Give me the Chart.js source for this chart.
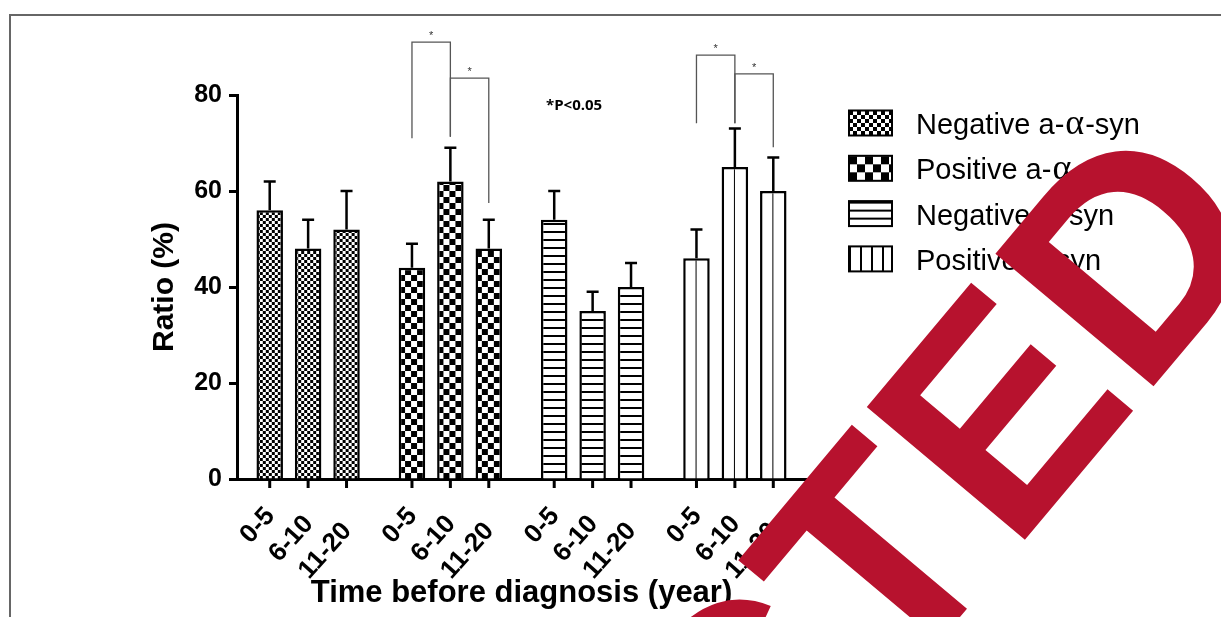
<!DOCTYPE html>
<html>
<head>
<meta charset="utf-8">
<script src="https://cdn.jsdelivr.net/npm/chart.js@4.4.1/dist/chart.umd.min.js"></script>
<style>
    html, body { margin: 0; padding: 0; background: #fff; }
    #wrap { position: relative; width: 1221px; height: 617px; overflow: hidden; }
    #frame { position: absolute; left: 9px; top: 14px; width: 1300px; height: 700px;
             border-top: 2px solid #666; border-left: 2px solid #666; }
    #c { position: absolute; left: 0; top: 0; }
</style>
</head>
<body>
<div id="wrap"><div id="frame"></div><canvas id="c" width="1221" height="617"></canvas></div>
<script>
(function () {
    'use strict';

    // ── Data ──────────────────────────────────────────────────────────────────
    var GROUPS  = ['Negative a-α-syn', 'Positive a-α-syn', 'Negative α-syn', 'Positive α-syn'];
    var PERIODS = ['0-5', '6-10', '11-20'];

    var NEG_ANTI     = [56, 48, 52];
    var NEG_ANTI_SD  = [6, 6, 8];
    var POS_ANTI     = [44, 62, 48];
    var POS_ANTI_SD  = [5, 7, 6];
    var NEG_ASYN     = [54, 35, 40];
    var NEG_ASYN_SD  = [6, 4, 5];
    var POS_ASYN     = [46, 65, 60];
    var POS_ASYN_SD  = [6, 8, 7];

    var Y_TICKS = [0, 20, 40, 60, 80];

    // significance brackets (group, bar a, bar b, top value, leg ends)
    var SIG_GROUP = [1, 1, 3, 3];
    var SIG_FROM  = [0, 1, 0, 1];
    var SIG_TO    = [1, 2, 1, 2];
    var SIG_TOP   = [91, 83.5, 88.3, 84.4];
    var SIG_END_A = [71, 71.3, 74.1, 74.1];
    var SIG_END_B = [71.3, 57.5, 74.1, 69.1];

    var SERIES    = [NEG_ANTI, POS_ANTI, NEG_ASYN, POS_ASYN];
    var SERIES_SD = [NEG_ANTI_SD, POS_ANTI_SD, NEG_ASYN_SD, POS_ASYN_SD];
    var KINDS     = ['fine', 'coarse', 'hlines', 'vlines'];

    var FONT = 'Liberation Sans';
    var STAMP = 'rgb(183, 18, 46)';

    // ── Patterns ──────────────────────────────────────────────────────────────
    function makeTile(kind, legend) {
        var t = document.createElement('canvas');
        var c, s;
        if (kind === 'fine' || kind === 'coarse') {
            s = kind === 'fine' ? (legend ? 4 : 3) : (legend ? 8 : 6);
            t.width = t.height = 2 * s;
            c = t.getContext('2d');
            c.fillStyle = '#fff'; c.fillRect(0, 0, 2 * s, 2 * s);
            c.fillStyle = '#000'; c.fillRect(0, 0, s, s); c.fillRect(s, s, s, s);
        } else if (kind === 'hlines') {
            t.width = 4; t.height = 8;
            c = t.getContext('2d');
            c.fillStyle = '#fff'; c.fillRect(0, 0, 4, 8);
            c.fillStyle = '#000'; c.fillRect(0, 0, 4, 2);
        } else {
            t.width = legend ? 11 : 13; t.height = 4;
            c = t.getContext('2d');
            c.fillStyle = '#fff'; c.fillRect(0, 0, t.width, 4);
            c.fillStyle = '#000'; c.fillRect(legend ? 0 : 12, 0, 2, 4);
        }
        return t;
    }

    var canvas = document.getElementById('c');
    var ctx = canvas.getContext('2d');

    function makePattern(kind, legend) {
        return ctx.createPattern(makeTile(kind, legend), 'repeat');
    }

    var datasets = PERIODS.map(function (p, pi) {
        return {
            label: p,
            data: SERIES.map(function (s) { return s[pi]; }),
            errors: SERIES_SD.map(function (s) { return s[pi]; }),
            backgroundColor: KINDS.map(function (k) { return makePattern(k, false); }),
            borderColor: '#000',
            borderWidth: 2.5,
            categoryPercentage: 0.81,
            barPercentage: 0.69,
        };
    });

    var legendPatterns = KINDS.map(function (k) { return makePattern(k, true); });

    function drawLegendText(c, text, x, y) {
        var parts = text.split('α');
        parts.forEach(function (p, i) {
            c.font = '29px "' + FONT + '"';
            c.fillText(p, x, y);
            x += c.measureText(p).width;
            if (i < parts.length - 1) {
                c.font = '36px "Liberation Serif"';
                c.fillText('α', x + 1, y);
                x += c.measureText('α').width + 2;
            }
        });
    }

    var decor = {
        id: 'decor',
        beforeDatasetsDraw: function (chart) {
            var bottom = chart.chartArea.bottom;
            chart.data.datasets.forEach(function (ds, di) {
                chart.getDatasetMeta(di).data.forEach(function (el, i) {
                    var left = el.x - el.width / 2;
                    ds.backgroundColor[i].setTransform(new DOMMatrix([1, 0, 0, 1, left + 0.3, bottom]));
                });
            });
        },
        afterDatasetsDraw: function (chart) {
            var c = chart.ctx, y = chart.scales.y;
            c.save();
            c.strokeStyle = '#000';
            c.lineWidth = 2.5;
            chart.data.datasets.forEach(function (ds, di) {
                chart.getDatasetMeta(di).data.forEach(function (el, i) {
                    var top = y.getPixelForValue(ds.data[i] + ds.errors[i]);
                    c.beginPath();
                    c.moveTo(el.x, el.y); c.lineTo(el.x, top);
                    c.moveTo(el.x - 6, top); c.lineTo(el.x + 6, top);
                    c.stroke();
                });
            });
            c.restore();
        },
        afterDraw: function (chart) {
            var c = chart.ctx, y = chart.scales.y, area = chart.chartArea;
            var metas = PERIODS.map(function (p, pi) { return chart.getDatasetMeta(pi); });
            c.save();

            // per-bar tick marks and rotated labels
            c.strokeStyle = '#000';
            c.lineWidth = 3;
            c.fillStyle = '#000';
            c.font = 'bold 26px "' + FONT + '"';
            metas.forEach(function (meta, pi) {
                meta.data.forEach(function (el) {
                    c.beginPath();
                    c.moveTo(el.x, area.bottom); c.lineTo(el.x, area.bottom + 9);
                    c.stroke();
                    var w = c.measureText(PERIODS[pi]).width;
                    c.save();
                    c.translate(el.x - 9, area.bottom + 24 + 0.55 * (w - 37.6));
                    c.rotate(-48 * Math.PI / 180);
                    c.textAlign = 'right';
                    c.textBaseline = 'top';
                    c.fillText(PERIODS[pi], 0, 0);
                    c.restore();
                });
            });

            // significance brackets
            c.strokeStyle = '#555';
            c.lineWidth = 1.3;
            c.fillStyle = '#333';
            c.font = '11px "' + FONT + '"';
            c.textAlign = 'center';
            SIG_GROUP.forEach(function (g, k) {
                var xa = metas[SIG_FROM[k]].data[g].x;
                var xb = metas[SIG_TO[k]].data[g].x;
                var yt = y.getPixelForValue(SIG_TOP[k]);
                c.beginPath();
                c.moveTo(xa, y.getPixelForValue(SIG_END_A[k]));
                c.lineTo(xa, yt); c.lineTo(xb, yt);
                c.lineTo(xb, y.getPixelForValue(SIG_END_B[k]));
                c.stroke();
                c.fillText('*', (xa + xb) / 2, yt - 3);
            });

            c.fillStyle = '#000';
            c.font = 'bold 15px "Open Sans"';
            c.textAlign = 'left';
            c.fillText('*P<0.05', 546, 110);

            // legend
            c.textAlign = 'left';
            c.textBaseline = 'alphabetic';
            GROUPS.forEach(function (g, i) {
                var cy = 123 + i * 45.3;
                var bx = 849, by = cy - 12.5;
                legendPatterns[i].setTransform(new DOMMatrix([1, 0, 0, 1, bx, by + 0.5]));
                c.fillStyle = legendPatterns[i];
                c.fillRect(bx, by, 43, 25);
                c.strokeStyle = '#000';
                c.lineWidth = 2;
                c.strokeRect(bx, by, 43, 25);
                c.fillStyle = '#000';
                drawLegendText(c, g, 916, cy + 11);
            });

            // retraction stamp, anchored at the baseline start of the final "E"
            c.translate(1012, 555);
            c.rotate(-50 * Math.PI / 180);
            c.font = 'bold 300px "' + FONT + '"';
            c.fillStyle = STAMP;
            c.textAlign = 'left';
            c.fillText('RETRACTED', -c.measureText('RETRACT').width, 0);
            c.restore();
        },
    };

    new Chart(ctx, {
        type: 'bar',
        data: { labels: GROUPS, datasets: datasets },
        options: {
            responsive: false,
            animation: false,
            events: [],
            layout: { padding: { top: 95, right: 415, bottom: 0, left: 0 } },
            plugins: { legend: { display: false }, tooltip: { enabled: false } },
            scales: {
                x: {
                    z: 1,
                    grid: { display: false },
                    ticks: { display: false },
                    border: { display: true, color: '#000', width: 3 },
                    title: {
                        display: true, text: 'Time before diagnosis (year)', color: '#000',
                        font: { family: FONT, size: 31, weight: 'bold' },
                        padding: { top: 0, bottom: 5 },
                    },
                    afterFit: function (s) { s.height = 138; },
                },
                y: {
                    z: 1,
                    min: 0, max: 80,
                    afterBuildTicks: function (s) { s.ticks = Y_TICKS.map(function (v) { return { value: v }; }); },
                    ticks: { color: '#000', padding: 7, font: { family: FONT, size: 25, weight: 'bold' } },
                    grid: { display: true, drawOnChartArea: false, drawTicks: true, tickLength: 8, tickWidth: 3, tickColor: '#000' },
                    border: { display: true, color: '#000', width: 3 },
                    title: {
                        display: true, text: 'Ratio (%)', color: '#000',
                        font: { family: FONT, size: 30, weight: 'bold' },
                        padding: { top: 147, bottom: 0 },
                    },
                    afterFit: function (s) { s.width = 237; },
                },
            },
        },
        plugins: [decor],
    });
}());
</script>
</body>
</html>
